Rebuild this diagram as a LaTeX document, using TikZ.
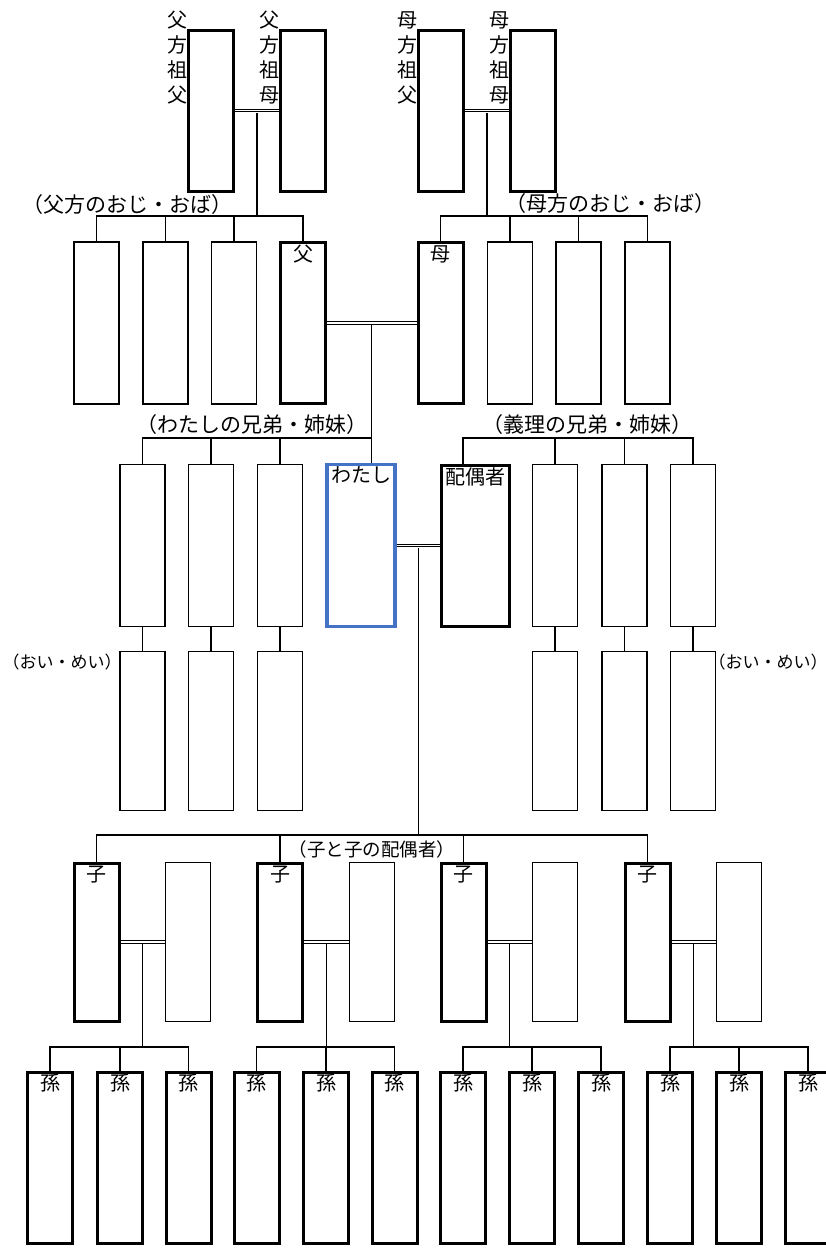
\documentclass[tikz,border=0pt]{standalone}
\usepackage{fontspec}
\setmainfont{Noto Sans CJK JP}
\usetikzlibrary{calc}
\definecolor{meblue}{RGB}{68,114,196}
\begin{document}
\begin{tikzpicture}[x=1pt,y=-1pt,
  box/.style={draw, line width=1.4pt, minimum width=45pt, inner sep=0pt, fill=white},
  thickbox/.style={box, line width=3pt},
  conn/.style={line width=1.4pt},
  marriage/.style={line width=0.9pt, double, double distance=1.6pt},
  lbl/.style={font=\fontsize{20}{24}\selectfont, inner sep=0pt},
  grp/.style={font=\fontsize{21}{24}\selectfont, inner sep=0pt},
  small/.style={font=\fontsize{17}{20}\selectfont, inner sep=0pt},
  vlab/.style={font=\fontsize{20}{25}\selectfont, inner sep=0pt, align=center}
]
\fill[white] (0,0) rectangle (825,1248);
\useasboundingbox (0,0) rectangle (825,1248);

% ---------- grandparents
\foreach \n/\x in {pgf/211, pgm/303, mgf/441, mgm/533}
  \node[thickbox, minimum height=161pt] (\n) at (\x,110.5) {};
\node[vlab] (lpgf) at (177,58) {父\\方\\祖\\父};
\node[vlab] (lpgm) at (269,58) {父\\方\\祖\\母};
\node[vlab] (lmgf) at (407,58) {母\\方\\祖\\父};
\node[vlab] (lmgm) at (499,58) {母\\方\\祖\\母};

% ---------- parents row
\foreach \n/\x in {au1/96.5, au2/165.5, au3/234, au5/510, au6/578.5, au7/647.5}
  \node[box, minimum height=162pt] (\n) at (\x,323) {};
\node[thickbox, minimum height=161pt] (fa) at (303,323) {};
\node[thickbox, minimum height=161pt] (mo) at (440.5,323) {};
\node[lbl, below=4pt] (lfa) at (fa.north) {父};
\node[lbl, below=4pt] (lmo) at (mo.north) {母};
\node[grp] (gpat) at (128,205) {（父方のおじ・おば）};
\node[grp] (gmat) at (610,204) {（母方のおじ・おば）};

% ---------- my generation
\foreach \n/\x in {s1/142.5, s2/211, s3/280, il1/555, il2/624.5, il3/693}
  \node[box, minimum height=162pt] (\n) at (\x,545.5) {};
\node[thickbox, draw=meblue, line width=3.5pt, minimum width=68pt, minimum height=162pt] (me) at (361,545.5) {};
\node[thickbox, minimum width=68pt, minimum height=161pt] (sp) at (475.5,545.5) {};
\node[lbl, below=4pt] (lme) at (me.north) {わたし};
\node[lbl, below=4pt] (lsp) at (sp.north) {配偶者};
\node[grp] (gsib) at (251.5,425) {（わたしの兄弟・姉妹）};
\node[grp] (gil) at (587.5,425) {（義理の兄弟・姉妹）};

% ---------- nephews / nieces
\foreach \n/\x in {n1/142.5, n2/211, n3/280, n4/555, n5/624.5, n6/693}
  \node[box, minimum height=159pt] (\n) at (\x,731) {};
\node[small] (gneL) at (62,662) {（おい・めい）};
\node[small] (gneR) at (768,662) {（おい・めい）};

% ---------- children
\foreach \n/\x in {ch1/96.5, ch2/280, ch3/463.5, ch4/647.5}{
  \node[thickbox, minimum height=158pt] (\n) at (\x,942) {};
  \node[lbl, below=4pt] (l\n) at (\n.north) {子};
}
\foreach \n/\x in {cs1/188, cs2/372, cs3/555, cs4/739}
  \node[box, minimum height=159pt] (\n) at (\x,942) {};
\node[small, font=\fontsize{18.5}{20}\selectfont] (gch) at (372,849) {（子と子の配偶者）};

% ---------- grandchildren
\foreach \i/\x in {1/50, 2/120, 3/188.5, 4/256.5, 5/326, 6/394.5, 7/463, 8/532, 9/601, 10/670, 11/739, 12/808}{
  \node[thickbox, minimum height=171pt] (g\i) at (\x,1158) {};
  \node[lbl, below=3pt] (lg\i) at (g\i.north) {孫};
}

% ---------- marriages
\coordinate (m1) at ($(pgf.east)!0.5!(pgm.west)$);
\coordinate (m2) at ($(mgf.east)!0.5!(mgm.west)$);
\coordinate (m3) at ($(fa.east)!0.5!(mo.west)$);
\coordinate (m4) at ($(me.east)!0.5!(sp.west)$);
\draw[marriage] (pgf.east) -- (pgm.west);
\draw[marriage] (mgf.east) -- (mgm.west);
\draw[marriage] (fa.east) -- (mo.west);
\draw[marriage] (me.east) -- (sp.west);
\foreach \k in {1,2,3,4}{
  \coordinate (cm\k) at ($(ch\k.east)!0.5!(cs\k.west)$);
  \draw[marriage] (ch\k.east) -- (cs\k.west);
}

% ---------- paternal uncles/aunts
\coordinate (j1) at (m1 |- 0,216);
\draw[conn] ([yshift=-2pt]m1) -- (j1);
\draw[conn] (au1.north) |- (j1);
\draw[conn] (fa.north) |- (j1);
\draw[conn] (au2.north) -- (au2.north |- j1);
\draw[conn] (au3.north) -- (au3.north |- j1);

% ---------- maternal uncles/aunts
\coordinate (j2) at (m2 |- 0,216);
\draw[conn] ([yshift=-2pt]m2) -- (j2);
\draw[conn] (mo.north) |- (j2);
\draw[conn] (au7.north) |- (j2);
\draw[conn] (au5.north) -- (au5.north |- j2);
\draw[conn] (au6.north) -- (au6.north |- j2);

% ---------- siblings
\coordinate (j3) at (m3 |- 0,438);
\draw[conn] ([yshift=-2pt]m3) -- (m3 |- me.north);
\draw[conn] (s1.north) |- (j3);
\draw[conn] (s2.north) -- (s2.north |- j3);
\draw[conn] (s3.north) -- (s3.north |- j3);

% ---------- in-law siblings
\coordinate (j4) at (463,438);
\draw[conn] (j4 |- sp.north) -- (j4) -- (il3.north |- j4) -- (il3.north);
\draw[conn] (il1.north) -- (il1.north |- j4);
\draw[conn] (il2.north) -- (il2.north |- j4);

% ---------- nephews
\draw[conn] (s1.south) -- (n1.north);
\draw[conn] (s2.south) -- (n2.north);
\draw[conn] (s3.south) -- (n3.north);
\draw[conn] (il1.south) -- (n4.north);
\draw[conn] (il2.south) -- (n5.north);
\draw[conn] (il3.south) -- (n6.north);

% ---------- children
\coordinate (j5) at (m4 |- 0,835);
\draw[conn] ([yshift=-2pt]m4) -- (j5);
\draw[conn] (ch1.north) -- (ch1.north |- j5) -- (ch4.north |- j5) -- (ch4.north);
\draw[conn] (ch2.north) -- (ch2.north |- j5);
\draw[conn] (ch3.north) -- (ch3.north |- j5);

% ---------- grandchildren
\foreach \k/\a/\b/\c in {1/1/2/3, 2/4/5/6, 3/7/8/9, 4/10/11/12}{
  \coordinate (gj\k) at (cm\k |- 0,1047);
  \draw[conn] ([yshift=-2pt]cm\k) -- (gj\k);
  \draw[conn] (g\a.north) -- (g\a.north |- gj\k) -- (g\c.north |- gj\k) -- (g\c.north);
  \draw[conn] (g\b.north) -- (g\b.north |- gj\k);
}
\end{tikzpicture}
\end{document}
